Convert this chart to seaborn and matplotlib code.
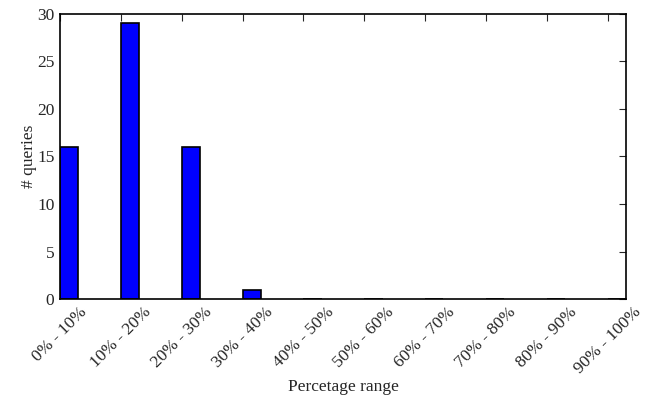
import numpy as np
import pandas as pd
import matplotlib
matplotlib.use("Agg")
import matplotlib.pyplot as plt
import seaborn as sns

ranges = ["0% - 10%", "10% - 20%", "20% - 30%", "30% - 40%", "40% - 50%",
          "50% - 60%", "60% - 70%", "70% - 80%", "80% - 90%", "90% - 100%"]
queries = [16, 29, 16, 1, 0, 0, 0, 0, 0, 0]


def plot_ranges(data):
    sns.set_style("white")
    plt.rcParams.update({
        "font.family": ["Liberation Serif", "DejaVu Serif"],
        "font.size": 12.5,
        "xtick.direction": "in",
        "ytick.direction": "in",
        "xtick.top": True,
        "ytick.right": True,
        "xtick.major.size": 5,
        "ytick.major.size": 5,
        "axes.linewidth": 1.2,
        "axes.edgecolor": "black",
    })

    fig = plt.figure(figsize=(6.45, 4.0), dpi=100)
    ax = fig.add_axes([0.093, 0.2525, 0.8775, 0.7125])

    width = 0.3
    sns.barplot(data=data, x="range", y="queries", order=ranges,
                color="#0000ff", saturation=1, width=width,
                edgecolor="black", linewidth=1.2, ax=ax)

    # ticks sit at the left edge of each bar
    pos = np.arange(len(ranges)) - width / 2
    ax.set_xticks(pos)
    ax.set_xticklabels(ranges, rotation=45, fontsize=12.5)
    ax.set_xlim(pos[0], pos[-1] + width)
    ax.set_ylim(0, 30)
    ax.set_yticks(range(0, 31, 5))
    ax.tick_params(axis="y", labelsize=12.5, pad=4)
    ax.set_xlabel("Percetage range", fontsize=12.5, labelpad=2)
    ax.set_ylabel("# queries", fontsize=12.5, labelpad=0)
    for s in ax.spines.values():
        s.set_visible(True)
        s.set_color("black")

    fig.savefig("out.png", dpi=100, facecolor="white")


def main():
    data = pd.DataFrame({"range": ranges, "queries": queries})
    plot_ranges(data)


if __name__ == "__main__":
    main()
